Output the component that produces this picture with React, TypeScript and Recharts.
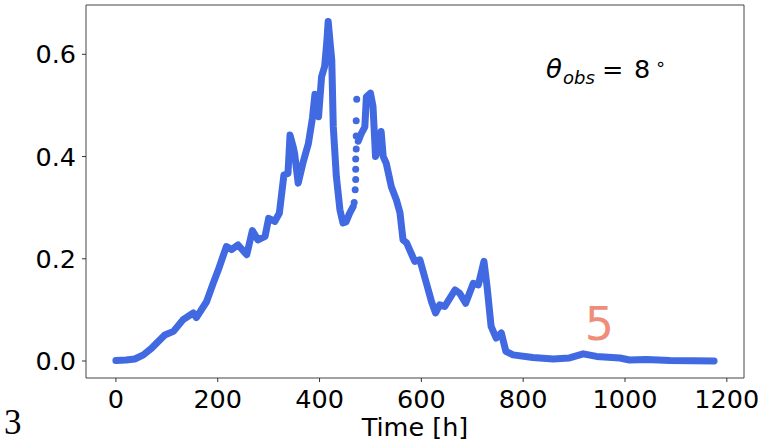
import React from 'react';
import {
  ComposedChart,
  Line,
  Scatter,
  XAxis,
  YAxis,
  ReferenceArea,
} from 'recharts';

// time [h] and flux along the light curve (null = gap where points are sparse)
const hours = [
  0, 20, 37, 54, 70, 96, 113, 132, 152, 158, 178, 191, 201, 217, 227, 240, 257, 268,
  279, 293, 300, 312, 321, 330, 338, 342, 348, 351, 358, 368, 378, 386, 391, 394, 398,
  404, 410, 414, 417, 421, 424, 427, 433, 440, 446, 452, 459, 466, 468,
  476, 482, 489, 492, 500, 505, 510, 516, 521, 525, 531, 541, 551, 558, 564, 571, 587,
  597, 610, 620, 628, 636, 646, 666, 675, 687, 702, 712, 723, 729, 737, 747, 757, 766,
  780, 819, 859, 891, 918, 944, 990, 1009, 1042, 1088, 1175,
];
const flux = [
  0.001, 0.002, 0.004, 0.012, 0.025, 0.051, 0.058, 0.081, 0.094, 0.085, 0.116, 0.152,
  0.178, 0.224, 0.218, 0.227, 0.208, 0.255, 0.237, 0.244, 0.279, 0.273, 0.289, 0.364,
  0.367, 0.442, 0.42, 0.406, 0.348, 0.39, 0.425, 0.475, 0.522, 0.515, 0.478, 0.556,
  0.576, 0.621, 0.664, 0.62, 0.589, 0.458, 0.361, 0.296, 0.27, 0.272, 0.289, 0.302, null,
  0.43, 0.445, 0.458, 0.517, 0.524, 0.498, 0.4, 0.42, 0.449, 0.4, 0.387, 0.341, 0.315,
  0.29, 0.237, 0.231, 0.195, 0.198, 0.152, 0.116, 0.094, 0.11, 0.107, 0.139, 0.133,
  0.113, 0.152, 0.149, 0.195, 0.146, 0.068, 0.045, 0.055, 0.019, 0.012, 0.007, 0.004,
  0.006, 0.014, 0.009, 0.006, 0.002, 0.003, 0.001, 0.0,
];

// the steep jump near 470 h, drawn as separate points
const jumpHours = [468, 470, 471, 471, 471, 472, 472, 472, 473];
const jumpFlux = [0.31, 0.335, 0.355, 0.375, 0.395, 0.415, 0.44, 0.47, 0.512];

const xTicks = [0, 200, 400, 600, 800, 1000, 1200];
const yTicks = [0, 0.2, 0.4, 0.6];
const xDomain = [-58.75, 1233.75];
const yDomain = [-0.0332, 0.6965];

const lineData = hours.map((x, i) => ({ x, y: flux[i] }));
const jumpData = jumpHours.map((x, i) => ({ x, y: jumpFlux[i] }));

const BLUE = '#4169e1';
const FONT = '"DejaVu Sans", sans-serif';

export default function App() {
  return (
    <div style={{ position: 'absolute', left: 0, top: 0, width: 763, height: 443, background: '#fff' }}>
      <ComposedChart
        width={763}
        height={443}
        margin={{ top: 5, right: 19, bottom: 0, left: 0 }}
      >
        <XAxis
          type="number"
          dataKey="x"
          domain={xDomain}
          ticks={xTicks}
          allowDataOverflow
          height={65}
          axisLine={false}
          tickSize={4}
          tickMargin={8}
          tickLine={{ stroke: '#333' }}
          tick={{ fontSize: 25.5, fill: '#000', fontFamily: FONT }}
          label={{
            value: 'Time [h]',
            position: 'insideBottom',
            offset: 7,
            style: { fontSize: 25.5, fill: '#000', fontFamily: FONT },
          }}
        />
        <YAxis
          type="number"
          dataKey="y"
          domain={yDomain}
          ticks={yTicks}
          allowDataOverflow
          width={86}
          axisLine={false}
          tickSize={4}
          tickMargin={6}
          tickLine={{ stroke: '#333' }}
          tickFormatter={(v: number) => v.toFixed(1)}
          tick={{ fontSize: 25.5, fill: '#000', fontFamily: FONT }}
        />
        <ReferenceArea
          x1={xDomain[0]}
          x2={xDomain[1]}
          y1={yDomain[0]}
          y2={yDomain[1]}
          fill="none"
          stroke="#444"
          strokeWidth={1}
          ifOverflow="visible"
        />
        <Line
          data={lineData}
          dataKey="y"
          type="linear"
          stroke={BLUE}
          strokeWidth={7}
          strokeLinecap="round"
          strokeLinejoin="round"
          dot={false}
          isAnimationActive={false}
        />
        <Scatter
          data={jumpData}
          dataKey="y"
          fill={BLUE}
          shape={(p: any) => <circle cx={p.cx} cy={p.cy} r={3.5} fill={BLUE} />}
          isAnimationActive={false}
        />
      </ComposedChart>
      <svg
        width={763}
        height={443}
        style={{ position: 'absolute', left: 0, top: 0, pointerEvents: 'none' }}
      >
        <text fontFamily={FONT} fill="#000">
          <tspan x={546} y={78} fontSize={26} fontStyle="italic">θ</tspan>
          <tspan x={563} y={84} fontSize={18} fontStyle="italic">obs</tspan>
          <tspan x={602} y={78} fontSize={25.5}>=</tspan>
          <tspan x={634} y={78} fontSize={25.5}>8</tspan>
          <tspan x={655} y={70} fontSize={18}>∘</tspan>
        </text>
        <text x={599.5} y={340} textAnchor="middle" fontFamily={FONT} fontSize={46} fill="#ef8e78">
          5
        </text>
        <text x={4} y={434} fontFamily='"Liberation Serif", serif' fontSize={35} fill="#000">
          3
        </text>
      </svg>
    </div>
  );
}
